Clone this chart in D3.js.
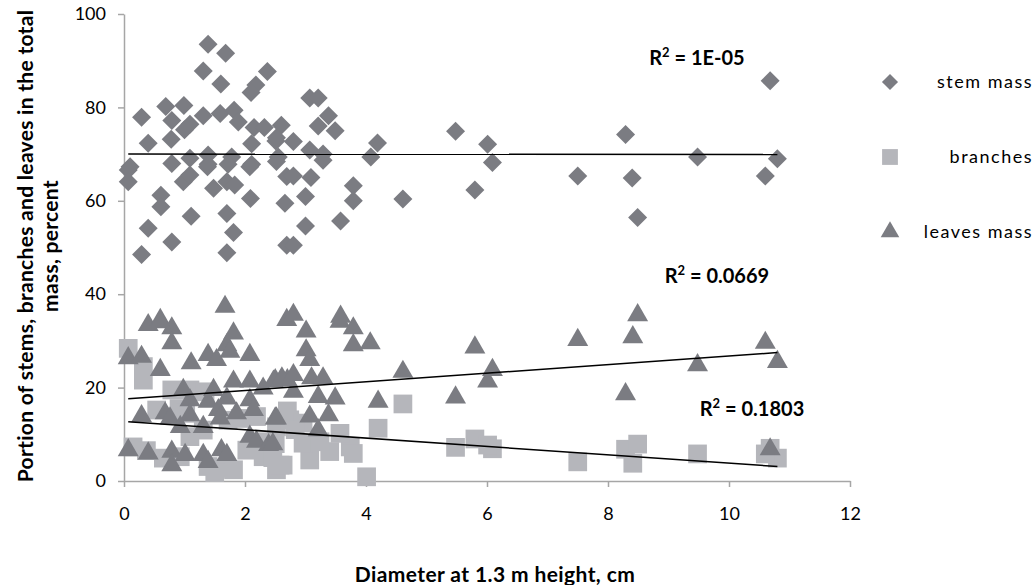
<!DOCTYPE html>
<html>
<head>
<meta charset="utf-8">
<script src="https://cdn.jsdelivr.net/npm/d3@7"></script>
<style>
  body { margin: 0; background: #fff; }
  svg { font-family: Lato, "Open Sans", sans-serif; }
</style>
</head>
<body>
<div id="chart"></div>
<script>
// chart size
const width = 1035, height = 585;
const plot = {left: 124, right: 850, top: 14, bottom: 481};

// stem mass, percent  [diameter cm, percent]
const stemMass = [
  [1.39, 93.5], [1.68, 91.6], [1.31, 87.8], [1.60, 85.0], [2.37, 87.7], [2.18, 84.8], [2.10, 83.2],
  [0.29, 77.9], [0.69, 80.2], [0.99, 80.4], [0.79, 77.2], [1.31, 78.2], [1.59, 78.7], [1.82, 79.4],
  [1.89, 76.9], [1.09, 76.4], [1.00, 75.2], [0.40, 72.3], [0.78, 73.2], [2.15, 75.7], [2.32, 75.7],
  [2.60, 76.2], [2.11, 72.2], [2.51, 72.8], [2.55, 69.4], [0.10, 67.3], [0.79, 68.0], [1.09, 69.1],
  [1.39, 69.8], [1.39, 67.8], [1.78, 69.4], [1.72, 67.8], [2.11, 67.8], [3.07, 82.0], [3.21, 82.0],
  [3.38, 78.2], [3.21, 76.0], [3.49, 75.0], [2.52, 73.5], [2.80, 72.7], [3.07, 70.9], [3.29, 70.0],
  [4.19, 72.4], [4.08, 69.4], [5.48, 74.9], [0.07, 66.6], [0.07, 64.1], [0.98, 64.1], [1.09, 65.5],
  [1.38, 67.3], [1.48, 62.7], [1.70, 64.1], [1.83, 63.4], [2.08, 67.3], [2.69, 65.2], [0.61, 61.2],
  [0.61, 58.7], [2.09, 60.5], [2.66, 59.5], [1.11, 56.7], [1.70, 57.3], [0.40, 54.1], [1.81, 53.2],
  [0.79, 51.2], [2.69, 50.5], [0.29, 48.5], [1.70, 48.9], [2.52, 68.4], [3.29, 68.7], [2.80, 65.3],
  [3.09, 65.0], [3.79, 63.2], [3.79, 60.0], [3.00, 60.9], [4.61, 60.4], [3.00, 54.6], [3.58, 55.7],
  [2.80, 50.5], [6.01, 72.1], [6.09, 68.2], [5.80, 62.3], [7.50, 65.3], [8.29, 74.2], [8.40, 64.9],
  [8.49, 56.4], [9.48, 69.4], [10.68, 85.7], [10.80, 69.0], [10.60, 65.3]
];

// branches, percent
const branches = [
  [0.07, 28.4], [0.32, 24.5], [0.32, 21.6], [0.15, 7.3], [0.37, 6.5], [0.79, 19.5], [1.09, 19.5],
  [0.54, 15.2], [1.34, 19.1], [0.91, 15.5], [1.02, 14.5], [1.31, 10.9], [1.09, 9.5], [0.65, 4.9],
  [0.93, 5.2], [1.39, 3.1], [1.64, 2.7], [1.81, 2.4], [1.50, 1.8], [1.72, 13.0], [1.92, 13.4],
  [2.19, 13.8], [2.33, 8.4], [2.52, 11.6], [2.52, 2.4], [2.63, 3.4], [2.03, 6.6], [2.30, 5.2],
  [2.70, 15.0], [2.58, 3.4], [3.07, 4.5], [3.40, 6.3], [3.74, 7.3], [3.79, 5.9], [2.96, 8.1],
  [3.24, 8.4], [2.74, 13.1], [2.96, 12.4], [3.57, 10.2], [2.83, 11.0], [4.01, 0.9], [4.20, 11.3],
  [4.61, 16.5], [5.48, 7.2], [5.80, 9.0], [6.09, 6.9], [6.01, 7.7], [7.50, 4.1], [8.29, 6.8],
  [8.49, 7.9], [8.41, 3.8], [9.48, 5.8], [10.68, 7.0], [10.80, 4.9], [10.60, 5.8], [2.50, 8.0],
  [2.46, 5.0]
];

// leaves mass, percent
const leavesMass = [
  [0.40, 33.4], [0.60, 34.5], [0.79, 32.7], [0.79, 29.5], [1.67, 37.3], [0.07, 26.3], [0.29, 26.6],
  [0.60, 23.8], [1.11, 25.2], [1.39, 27.0], [1.53, 25.9], [1.70, 29.1], [1.81, 31.6], [1.75, 27.7],
  [2.08, 27.0], [0.29, 13.9], [0.07, 6.6], [0.40, 5.9], [0.79, 6.3], [0.79, 3.4], [1.01, 5.6],
  [1.31, 5.6], [1.39, 4.1], [1.61, 6.6], [1.70, 5.6], [0.68, 14.5], [0.76, 13.4], [0.98, 19.5],
  [1.09, 17.3], [1.09, 14.1], [0.93, 11.6], [1.31, 11.6], [1.39, 17.0], [1.48, 19.5], [1.56, 15.2],
  [1.59, 13.4], [1.70, 17.7], [1.81, 21.3], [1.86, 14.5], [2.08, 21.3], [2.30, 19.8], [2.08, 17.3],
  [2.14, 15.2], [2.08, 9.5], [2.19, 8.4], [2.39, 7.7], [2.50, 13.4], [2.50, 21.6], [2.60, 21.6],
  [2.70, 21.6], [2.69, 34.5], [2.80, 35.6], [3.01, 32.0], [3.57, 34.1], [3.79, 32.7], [4.07, 29.5],
  [3.79, 29.1], [3.01, 28.0], [3.07, 25.9], [2.47, 21.3], [2.61, 22.0], [2.80, 22.7], [3.10, 22.0],
  [3.29, 22.0], [2.80, 19.1], [3.21, 18.0], [3.49, 17.7], [2.52, 13.4], [3.07, 13.8], [3.38, 14.1],
  [3.21, 10.9], [2.46, 7.9], [4.61, 23.4], [4.20, 17.0], [5.48, 17.9], [5.80, 28.6], [6.09, 23.8],
  [6.01, 21.3], [7.50, 30.2], [8.49, 35.5], [8.41, 30.8], [8.29, 18.6], [9.48, 24.8], [10.60, 29.6],
  [10.80, 25.5], [10.68, 6.8], [0.60, 34.0], [3.58, 35.2]
];

// linear trend lines: [x0, y0, x1, y1] and the R² labels
const trendStem = [0.07, 70.0, 10.8, 69.9];
const trendLeaves = [0.07, 17.6, 10.8, 27.5];
const trendBranches = [0.07, 12.7, 10.8, 3.1];
const r2Labels = [
  {text: "1E-05", x: 9.47, y: 89.0},
  {text: "0.0669", x: 9.80, y: 42.4},
  {text: "0.1803", x: 10.38, y: 13.9}
];

const xTicks = [0, 2, 4, 6, 8, 10, 12];
const yTicks = [0, 20, 40, 60, 80, 100];
const legendNames = ["stem mass", "branches", "leaves mass"];

const colDark = "#7b7c82", colLight = "#b5b6bb";

const svg = d3.select("#chart").append("svg")
    .attr("width", width).attr("height", height);

const x = d3.scaleLinear().domain([0, 12]).range([plot.left, plot.right]);
const y = d3.scaleLinear().domain([0, 100]).range([plot.bottom, plot.top]);

// axes
const xAxis = svg.append("g")
    .attr("transform", `translate(0,${plot.bottom})`)
    .call(d3.axisBottom(x).tickValues(xTicks).tickSize(6).tickPadding(20).tickSizeOuter(0));
const yAxis = svg.append("g")
    .attr("transform", `translate(${plot.left},0)`)
    .call(d3.axisLeft(y).tickValues(yTicks).tickSize(6).tickPadding(12).tickSizeOuter(0));
[xAxis, yAxis].forEach(g => {
    g.select(".domain").attr("stroke", "#a6a6a6").attr("stroke-width", 1.5);
    g.selectAll(".tick line").attr("stroke", "#a6a6a6").attr("stroke-width", 1.5);
    g.selectAll(".tick text").attr("fill", "#000").style("font-size", "18px")
        .style("font-family", "Lato, sans-serif");
});

// symbols
const diamond = d3.symbol().type(d3.symbolDiamond2).size(230);
const square = d3.symbol().type(d3.symbolSquare).size(350);
const triangle = d3.symbol().type(d3.symbolTriangle).size(190);

svg.append("g").selectAll("path")
    .data(stemMass).join("path")
    .attr("d", diamond)
    .attr("transform", d => `translate(${x(d[0])},${y(d[1])})`)
    .attr("fill", colDark);

svg.append("g").selectAll("path")
    .data(branches).join("path")
    .attr("d", square)
    .attr("transform", d => `translate(${x(d[0])},${y(d[1])})`)
    .attr("fill", colLight);

svg.append("g").selectAll("path")
    .data(leavesMass).join("path")
    .attr("d", triangle)
    .attr("transform", d => `translate(${x(d[0])},${y(d[1])})`)
    .attr("fill", colDark);

// trend lines
svg.append("g").selectAll("line")
    .data([trendStem, trendLeaves, trendBranches]).join("line")
    .attr("x1", d => x(d[0])).attr("y1", d => y(d[1]))
    .attr("x2", d => x(d[2])).attr("y2", d => y(d[3]))
    .attr("stroke", "#000").attr("stroke-width", 1.5);

// R² labels
const r2 = svg.append("g").selectAll("text")
    .data(r2Labels).join("text")
    .attr("x", d => x(d.x)).attr("y", d => y(d.y))
    .attr("text-anchor", "middle")
    .style("font-size", "20px").style("font-weight", "bold");
r2.append("tspan").text("R");
r2.append("tspan").attr("dy", -8).style("font-size", "13px").text("2");
r2.append("tspan").attr("dy", 8).text(d => " = " + d.text);

// legend
const legend = svg.append("g").selectAll("g")
    .data(legendNames).join("g")
    .attr("transform", (d, i) => `translate(890,${82 + i * 75})`);
legend.append("path")
    .attr("d", (d, i) => [d3.symbol().type(d3.symbolDiamond2).size(165),
                          d3.symbol().type(d3.symbolSquare).size(250),
                          d3.symbol().type(d3.symbolTriangle).size(150)][i]())
    .attr("fill", (d, i) => i === 1 ? colLight : colDark);
legend.append("text")
    .attr("x", 143).attr("y", 6)
    .attr("text-anchor", "end")
    .style("font-size", "18px").style("letter-spacing", "1.5px")
    .text(d => d);

// axis titles
svg.append("text")
    .attr("x", 495).attr("y", 582)
    .attr("text-anchor", "middle")
    .style("font-size", "21px").style("font-weight", "bold").style("letter-spacing", "0.4px")
    .text("Diameter at 1.3 m height, cm");

const yTitle = svg.append("text")
    .attr("transform", "translate(0,246) rotate(-90)")
    .attr("text-anchor", "middle")
    .style("font-size", "21px").style("font-weight", "bold").style("letter-spacing", "0.3px");
yTitle.append("tspan").attr("x", 0).attr("y", 33).text("Portion of stems, branches and leaves in the total");
yTitle.append("tspan").attr("x", 0).attr("y", 58).text("mass, percent");
</script>
</body>
</html>
